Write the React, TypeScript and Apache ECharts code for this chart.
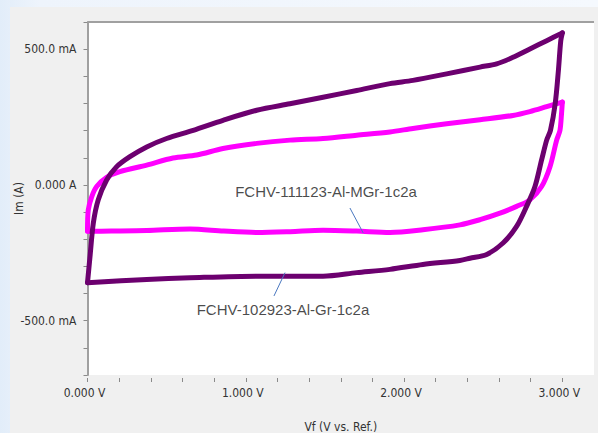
import React, { useEffect, useRef } from "react";
import * as echarts from "echarts";

// Vf (V) and Im (mA)
const purpleUpV = [0.0, 0.016, 0.037, 0.068, 0.121, 0.184, 0.268, 0.374, 0.5, 0.668, 0.856, 1.069, 1.279, 1.488, 1.701, 1.911, 2.056, 2.269, 2.48, 2.585, 2.688, 2.795, 2.901, 3.0];
const purpleUpI = [-360, -263, -140, -55, 18, 67, 104, 140, 171, 201, 238, 275, 299, 323, 348, 373, 385, 409, 434, 446, 470, 501, 531, 560];
const purpleDownV = [3.0, 2.99, 2.975, 2.955, 2.925, 2.901, 2.869, 2.827, 2.774, 2.711, 2.627, 2.522, 2.416, 2.353, 2.119, 1.911, 1.701, 1.488, 1.069, 0.648, 0.374, 0.0];
const purpleDownI = [560, 531, 421, 300, 201, 165, 92, -6, -79, -153, -213, -256, -270, -278, -293, -311, -323, -336, -336, -342, -348, -360];

const magentaUpV = [0.0, 0.005, 0.027, 0.058, 0.121, 0.205, 0.374, 0.54, 0.69, 0.856, 1.069, 1.279, 1.488, 1.701, 1.911, 2.056, 2.269, 2.48, 2.688, 2.795, 2.901, 3.0];
const magentaUpI = [-171, -92, -43, -6, 28, 49, 73, 99, 110, 134, 153, 165, 171, 183, 195, 208, 225, 240, 256, 270, 288, 305];
const magentaDownV = [3.0, 2.995, 2.985, 2.964, 2.922, 2.869, 2.795, 2.711, 2.606, 2.48, 2.353, 2.119, 1.911, 1.7, 1.488, 1.28, 1.069, 0.86, 0.648, 0.374, 0.15, 0.0];
const magentaDownI = [305, 264, 201, 165, 67, -6, -55, -79, -104, -128, -147, -165, -175, -170, -167, -172, -175, -170, -162, -168, -170, -171];

const xTickLabels = ["0.000 V", "1.000 V", "2.000 V", "3.000 V"];
const yTickValues = [500, 0, -500];
const yTickLabels = ["500.0 mA", "0.000 A", "-500.0 mA"];
const yTop = 600;

const annotationTexts = ["FCHV-111123-Al-MGr-1c2a", "FCHV-102923-Al-Gr-1c2a"];
const annotationAnchors = [[1.507, -25], [1.235, -458]];
const leaderStarts = [[1.658, -85], [1.178, -409]];
const leaderEnds = [[1.742, -177], [1.248, -323]];

const zip = (v: number[], i: number[]) => v.map((x, k) => [x, i[k]]);
const axisFont = "'Liberation Sans Narrow', 'DejaVu Sans Condensed', 'Liberation Sans', Arial, sans-serif";

export default function App() {
  const ref = useRef<HTMLDivElement>(null);
  useEffect(() => {
    const chart = echarts.init(ref.current!, null, { renderer: "svg" });
    const lineSeries = (data: number[][], color: string) => ({
      type: "line",
      data,
      showSymbol: false,
      symbol: "none",
      smooth: 0.3,
      lineStyle: { color, width: 5, cap: "round", join: "round" },
      silent: true,
    });
    chart.setOption({
      animation: false,
      backgroundColor: "transparent",
      graphic: [
        { type: "rect", z: -10, left: 10, top: 7, shape: { width: 588, height: 426 }, style: { fill: "#f0f0f0" } },
      ],
      grid: {
        left: 87.5,
        right: 4,
        top: 22,
        bottom: 58,
        show: true,
        backgroundColor: "#ffffff",
        borderWidth: 0,
        containLabel: false,
        outerBoundsMode: "none",
      },
      xAxis: {
        type: "value",
        min: 0,
        max: 3.2,
        interval: 0.2,
        offset: 3,
        axisLine: { show: false, onZero: false },
        axisTick: { show: true, length: 4, lineStyle: { color: "#8a8a8a" } },
        splitLine: { show: false },
        axisLabel: {
          margin: 9,
          fontSize: 12,
          fontFamily: axisFont,
          color: "#333",
          showMaxLabel: false,
          padding: [0, 6, 0, 0],
          formatter: (v: number) => {
            const r = Math.round(v);
            return Math.abs(v - r) < 1e-6 && r < xTickLabels.length ? xTickLabels[r] : "";
          },
        },
        name: "Vf (V vs. Ref.)",
        nameLocation: "middle",
        nameGap: 43,
        nameMoveOverlap: false,
        nameTextStyle: { fontSize: 12, fontFamily: axisFont, color: "#333" },
      },
      yAxis: {
        type: "value",
        min: -700,
        max: yTop,
        interval: 100,
        axisLine: { show: true, onZero: false, lineStyle: { color: "#a0a0a0", width: 2 } },
        axisTick: { show: true, length: 4, lineStyle: { color: "#8a8a8a" } },
        splitLine: { show: false },
        axisLabel: {
          margin: 11,
          fontSize: 12,
          fontFamily: axisFont,
          color: "#333",
          formatter: (v: number) => {
            const k = yTickValues.indexOf(Math.round(v));
            return k >= 0 ? yTickLabels[k] : "";
          },
        },
        name: "Im (A)",
        nameLocation: "middle",
        nameGap: 63,
        nameMoveOverlap: false,
        nameTextStyle: { fontSize: 12, fontFamily: axisFont, color: "#333" },
      },
      series: [
        lineSeries(zip(magentaUpV, magentaUpI), "#ff00ff"),
        lineSeries(zip(magentaDownV, magentaDownI), "#ff00ff"),
        lineSeries(zip(purpleUpV, purpleUpI), "#6c006f"),
        lineSeries(zip(purpleDownV, purpleDownI), "#6c006f"),
        {
          type: "scatter",
          data: annotationAnchors.map((p, k) => ({ value: p, name: annotationTexts[k] })),
          symbolSize: 0,
          silent: true,
          label: {
            show: true,
            position: "inside",
            formatter: (p: any) => p.name,
            fontSize: 15,
            fontFamily: "'Liberation Sans', Arial, sans-serif",
            color: "#1a1a1a",
          },
          markLine: {
            silent: true,
            symbol: ["none", "none"],
            label: { show: false },
            lineStyle: { color: "#4a78c0", width: 1, type: "solid" },
            data: leaderStarts.map((s, k) => [{ coord: s }, { coord: leaderEnds[k] }]),
          },
        },
        {
          type: "line",
          data: [],
          silent: true,
          markLine: {
            silent: true,
            symbol: ["none", "none"],
            label: { show: false },
            lineStyle: { color: "#a0a0a0", width: 2, type: "solid" },
            data: [{ yAxis: yTop }],
          },
        },
      ],
    });
    return () => chart.dispose();
  }, []);
  return (
    <div style={{ position: "fixed", left: 0, top: 0, width: 598, height: 433, background: "linear-gradient(90deg, #e2edf9 0px, #eef4fc 40px, #f5f9fe 100%)" }}>
      <div ref={ref} style={{ width: 598, height: 433 }} />
    </div>
  );
}
